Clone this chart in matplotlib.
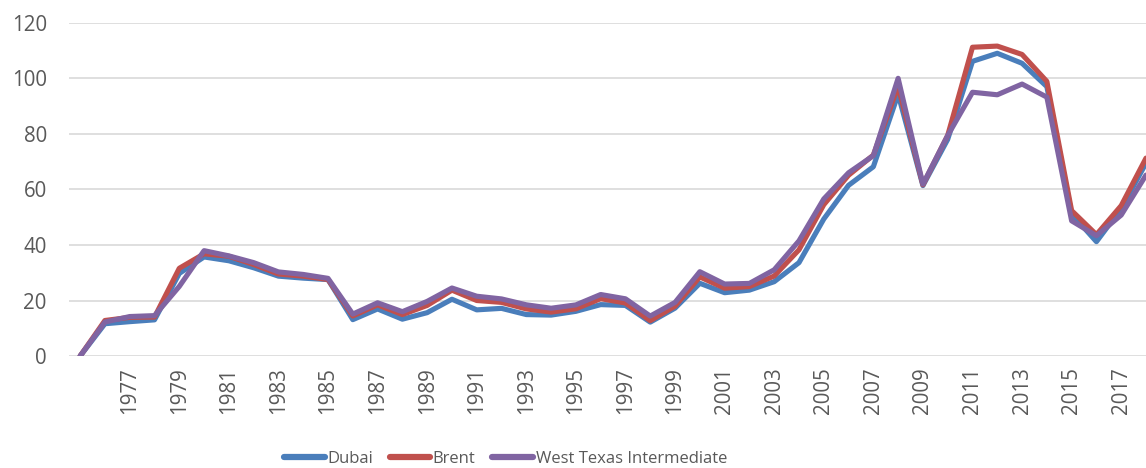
import matplotlib
matplotlib.use("Agg")
import matplotlib.pyplot as plt

years = [""] + [str(y) for y in range(1976, 2019)]

dubai = [0, 11.63, 12.38, 13.03, 29.75, 35.69, 34.32, 31.80, 28.78, 28.06, 27.53,
         13.10, 16.95, 13.27, 15.62, 20.45, 16.63, 17.17, 14.93, 14.74, 16.10,
         18.52, 18.23, 12.21, 17.25, 26.20, 22.81, 23.74, 26.78, 33.64, 49.35,
         61.50, 68.19, 94.34, 61.39, 78.06, 106.18, 109.08, 105.47, 97.07, 51.20,
         41.19, 53.13, 69.51]
brent = [0, 12.80, 13.92, 14.02, 31.61, 36.83, 35.93, 32.97, 29.55, 28.78, 27.56,
         14.43, 18.44, 14.92, 18.23, 23.73, 20.00, 19.32, 16.97, 15.82, 17.02,
         20.67, 19.09, 12.72, 17.97, 28.50, 24.44, 25.02, 28.83, 38.27, 54.52,
         65.14, 72.39, 97.26, 61.67, 79.50, 111.26, 111.67, 108.66, 98.95, 52.39,
         43.73, 54.19, 71.31]
wti = [0, 12.23, 14.22, 14.55, 25.08, 37.96, 36.08, 33.65, 30.30, 29.39, 27.98,
       15.10, 19.18, 15.97, 19.68, 24.50, 21.54, 20.57, 18.45, 17.21, 18.42,
       22.16, 20.61, 14.39, 19.31, 30.37, 25.93, 26.16, 31.07, 41.49, 56.59,
       66.02, 72.20, 100.06, 61.92, 79.45, 95.04, 94.13, 97.99, 93.28, 48.71,
       43.34, 50.79, 65.20]

series = [("Dubai", dubai, "#4A7EBB"),
          ("Brent", brent, "#C0504D"),
          ("West Texas Intermediate", wti, "#8064A2")]

GREY = "#595959"
plt.rcParams["font.family"] = ["Open Sans", "DejaVu Sans"]

fig = plt.figure(figsize=(11.46, 4.68), dpi=100)
ax = fig.add_axes([0.0602, 0.2393, 0.9398, 0.7116])

x = list(range(len(years)))
for name, vals, col in series:
    ax.plot(x, vals, color=col, lw=3.7, label=name, solid_joinstyle="round",
            solid_capstyle="round")

ax.set_ylim(0, 120)
ax.set_yticks(range(0, 121, 20))
ax.set_xlim(-0.45, 43)
ax.set_xticks(x[::2])
ax.set_xticklabels(years[::2], rotation=90)
ax.tick_params(axis="both", length=0, labelsize=14.8, labelcolor=GREY)
ax.tick_params(axis="y", pad=16)
ax.tick_params(axis="x", pad=8)
ax.grid(axis="y", color="#D9D9D9", lw=1.2)
ax.set_axisbelow(True)
for s in ax.spines.values():
    s.set_visible(False)

leg = fig.legend(loc="center", bbox_to_anchor=(0.441, 0.019), ncol=3, frameon=False,
                 fontsize=12, handlelength=2.45, handletextpad=0.15,
                 columnspacing=1.0)
for t in leg.get_texts():
    t.set_color(GREY)
for h in leg.get_lines():
    h.set_linewidth(4.5)

fig.savefig("out.png", facecolor="white")
